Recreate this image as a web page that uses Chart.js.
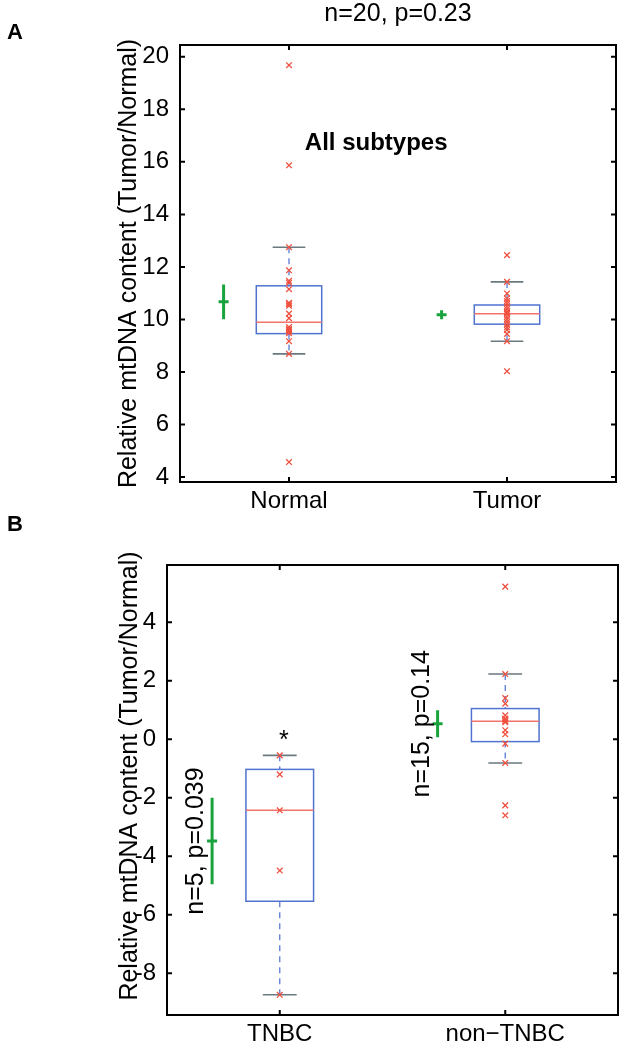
<!DOCTYPE html>
<html>
<head>
<meta charset="utf-8">
<script src="https://cdn.jsdelivr.net/npm/chart.js@4.4.1/dist/chart.umd.min.js"></script>
<style>
  html, body { margin: 0; padding: 0; background: #fff; }
  canvas { display: block; position: absolute; left: 0; }
  #chartA { top: 0; }
  #chartB { top: 512px; }
</style>
</head>
<body>
<canvas id="chartA" width="624" height="530"></canvas>
<canvas id="chartB" width="624" height="538"></canvas>
<script>
// --- DATA ---

// Panel A: all subtypes
const groupsA = ['Normal', 'Tumor'];
const normalValues = [19.68, 15.87, 12.75, 11.87, 11.47, 11.4, 11.15, 10.63, 10.58, 10.52,
                      10.22, 10.05, 9.71, 9.63, 9.6, 9.55, 9.48, 9.17, 8.69, 4.57];
const tumorValues = [12.45, 11.43, 10.99, 10.8, 10.7, 10.6, 10.5, 10.4, 10.3, 10.25,
                     10.2, 10.1, 10.0, 9.9, 9.8, 9.7, 9.6, 9.45, 9.17, 8.03];
const lowA = [8.69, 9.17];
const q1A = [9.46, 9.82];
const medianA = [9.89, 10.22];
const q3A = [11.28, 10.55];
const highA = [12.75, 11.43];
const meanA = [10.67, 10.18];
const errA = [0.66, 0.17];
const yRangeA = [3.81, 20.45];

// Panel B: TNBC vs non-TNBC
const groupsB = ['TNBC', 'non\u2212TNBC'];
const tnbcValues = [-0.55, -1.2, -2.43, -4.49, -8.74];
const nonTnbcValues = [5.22, 2.23, 1.41, 1.22, 0.82, 0.71, 0.68, 0.62, 0.58, 0.31,
                       0.17, -0.15, -0.81, -2.26, -2.6];
const lowB = [-8.74, -0.81];
const q1B = [-5.54, -0.08];
const medianB = [-2.43, 0.62];
const q3B = [-1.03, 1.05];
const highB = [-0.55, 2.23];
const meanB = [-3.48, 0.53];
const errB = [1.48, 0.46];
const statLabelsB = ['n=5, p=0.039', 'n=15, p=0.14'];
const yRangeB = [-9.43, 5.96];

const yTitle = 'Relative mtDNA content (Tumor/Normal)';

Chart.defaults.font.family = '"Liberation Sans", Arial, sans-serif';
Chart.defaults.font.size = 24;
Chart.defaults.color = '#000';

// draws boxes, whiskers and the green mean/error bars from the scales
function boxPlugin(s) {
    return {
        id: 'boxes',
        beforeDatasetsDraw(chart) {
            const { ctx, scales: { x, y } } = chart;
            ctx.save();
            s.median.forEach((m, i) => {
                const cx = x.getPixelForValue(i);
                const hw = x.getPixelForValue(i + 0.15) - cx;
                const cw = x.getPixelForValue(i + 0.075) - cx;

                // dashed whiskers
                ctx.strokeStyle = '#5b7bd5';
                ctx.lineWidth = 1.3;
                ctx.setLineDash([6, 5]);
                ctx.beginPath();
                ctx.moveTo(cx, y.getPixelForValue(s.high[i]));
                ctx.lineTo(cx, y.getPixelForValue(s.q3[i]));
                ctx.moveTo(cx, y.getPixelForValue(s.q1[i]));
                ctx.lineTo(cx, y.getPixelForValue(s.low[i]));
                ctx.stroke();
                ctx.setLineDash([]);

                // whisker caps
                ctx.strokeStyle = '#6a7a80';
                ctx.lineWidth = 1.6;
                ctx.beginPath();
                [s.high[i], s.low[i]].forEach(v => {
                    const py = y.getPixelForValue(v);
                    ctx.moveTo(cx - cw, py);
                    ctx.lineTo(cx + cw, py);
                });
                ctx.stroke();

                // box
                const top = y.getPixelForValue(s.q3[i]);
                const bot = y.getPixelForValue(s.q1[i]);
                ctx.strokeStyle = '#5073d0';
                ctx.lineWidth = 1.5;
                ctx.strokeRect(cx - hw, top, hw * 2, bot - top);

                // median
                const pm = y.getPixelForValue(m);
                ctx.strokeStyle = '#f2746a';
                ctx.lineWidth = 1.5;
                ctx.beginPath();
                ctx.moveTo(cx - hw, pm);
                ctx.lineTo(cx + hw, pm);
                ctx.stroke();

                // green mean +/- error
                const gx = x.getPixelForValue(i - 0.3);
                ctx.strokeStyle = '#19a33c';
                ctx.lineWidth = 3;
                ctx.beginPath();
                ctx.moveTo(gx, y.getPixelForValue(s.mean[i] + s.err[i]));
                ctx.lineTo(gx, y.getPixelForValue(s.mean[i] - s.err[i]));
                const py = y.getPixelForValue(s.mean[i]);
                ctx.moveTo(gx - 5, py);
                ctx.lineTo(gx + 5, py);
                ctx.stroke();
            });
            ctx.restore();
        }
    };
}

// black frame with inward ticks on all four sides, plus text
function framePlugin(drawText) {
    return {
        id: 'frame',
        afterDraw(chart) {
            const { ctx, chartArea: a, scales: { x, y } } = chart;
            ctx.save();
            ctx.strokeStyle = '#000';
            ctx.lineWidth = 2;
            ctx.strokeRect(a.left, a.top, a.right - a.left, a.bottom - a.top);
            ctx.beginPath();
            y.ticks.forEach(t => {
                const py = y.getPixelForValue(t.value);
                ctx.moveTo(a.left, py); ctx.lineTo(a.left + 5, py);
                ctx.moveTo(a.right, py); ctx.lineTo(a.right - 5, py);
            });
            x.ticks.forEach(t => {
                const px = x.getPixelForValue(t.value);
                ctx.moveTo(px, a.bottom); ctx.lineTo(px, a.bottom - 5);
                ctx.moveTo(px, a.top); ctx.lineTo(px, a.top + 5);
            });
            ctx.stroke();
            ctx.fillStyle = '#000';
            drawText(ctx, a, x, y);
            ctx.restore();
        }
    };
}

function drawYTitle(ctx, cx, cy) {
    ctx.save();
    ctx.translate(cx, cy);
    ctx.rotate(-Math.PI / 2);
    ctx.font = '25px "Liberation Sans", Arial, sans-serif';
    ctx.textAlign = 'center';
    ctx.textBaseline = 'middle';
    ctx.fillText(yTitle, 0, 0);
    ctx.restore();
}

function makePanel(canvasId, groups, seriesList, stats, yRange, padding, yWidth, xHeight, drawText) {
    const ctx = document.getElementById(canvasId).getContext('2d');
    return new Chart(ctx, {
        type: 'scatter',
        data: {
            datasets: seriesList.map((vals, i) => ({
                data: vals.map(v => ({ x: i, y: v })),
                pointStyle: 'crossRot',
                pointRadius: 4,
                borderWidth: 1.3,
                borderColor: '#f0503f',
                backgroundColor: '#f0503f'
            }))
        },
        options: {
            responsive: false,
            animation: false,
            layout: { padding: padding },
            plugins: { legend: { display: false }, tooltip: { enabled: false } },
            scales: {
                x: {
                    type: 'linear',
                    min: -0.5,
                    max: 1.5,
                    grid: { display: false },
                    border: { display: false },
                    afterBuildTicks: s => { s.ticks = groups.map((g, i) => ({ value: i })); },
                    afterFit: s => { s.height = xHeight; },
                    ticks: {
                        padding: -3,
                        autoSkip: false,
                        maxRotation: 0,
                        callback: v => groups[v] !== undefined ? groups[v] : ''
                    }
                },
                y: {
                    min: yRange[0],
                    max: yRange[1],
                    grid: { display: false },
                    border: { display: false },
                    afterFit: s => { s.width = yWidth; },
                    ticks: { stepSize: 2, includeBounds: false, padding: 3 }
                }
            }
        },
        plugins: [boxPlugin(stats), framePlugin(drawText)]
    });
}

// Panel A
makePanel('chartA', groupsA, [normalValues, tumorValues],
    { low: lowA, q1: q1A, median: medianA, q3: q3A, high: highA, mean: meanA, err: errA },
    yRangeA, { left: 0, top: 45, right: 8, bottom: 0 }, 180, 48,
    (ctx, a, x, y) => {
        ctx.font = 'bold 22px "Liberation Sans", Arial, sans-serif';
        ctx.textAlign = 'left';
        ctx.textBaseline = 'middle';
        ctx.fillText('A', 7, 33);
        ctx.font = '25px "Liberation Sans", Arial, sans-serif';
        ctx.textAlign = 'center';
        ctx.fillText('n=20, p=0.23', (a.left + a.right) / 2, 14);
        ctx.font = 'bold 24px "Liberation Sans", Arial, sans-serif';
        ctx.fillText('All subtypes', x.getPixelForValue(0.4), y.getPixelForValue(16.7));
        drawYTitle(ctx, 129, (a.top + a.bottom) / 2);
    });

// Panel B
makePanel('chartB', groupsB, [tnbcValues, nonTnbcValues],
    { low: lowB, q1: q1B, median: medianB, q3: q3B, high: highB, mean: meanB, err: errB },
    yRangeB, { left: 0, top: 53, right: 6, bottom: 0 }, 167, 35,
    (ctx, a, x, y) => {
        ctx.font = 'bold 22px "Liberation Sans", Arial, sans-serif';
        ctx.textAlign = 'left';
        ctx.textBaseline = 'middle';
        ctx.fillText('B', 7, 13);
        drawYTitle(ctx, 130, (a.top + a.bottom) / 2 - 14);
        // significance star above TNBC
        ctx.font = '25px "Liberation Sans", Arial, sans-serif';
        ctx.textAlign = 'center';
        ctx.textBaseline = 'alphabetic';
        ctx.fillText('*', x.getPixelForValue(0) + 4, y.getPixelForValue(highB[0]) - 7);
        // rotated n / p labels next to the green bars
        statLabelsB.forEach((txt, i) => {
            ctx.save();
            ctx.translate(x.getPixelForValue(i - 0.37), y.getPixelForValue(meanB[i]));
            ctx.rotate(-Math.PI / 2);
            ctx.textBaseline = 'middle';
            ctx.fillText(txt, 0, 0);
            ctx.restore();
        });
    });
</script>
</body>
</html>
